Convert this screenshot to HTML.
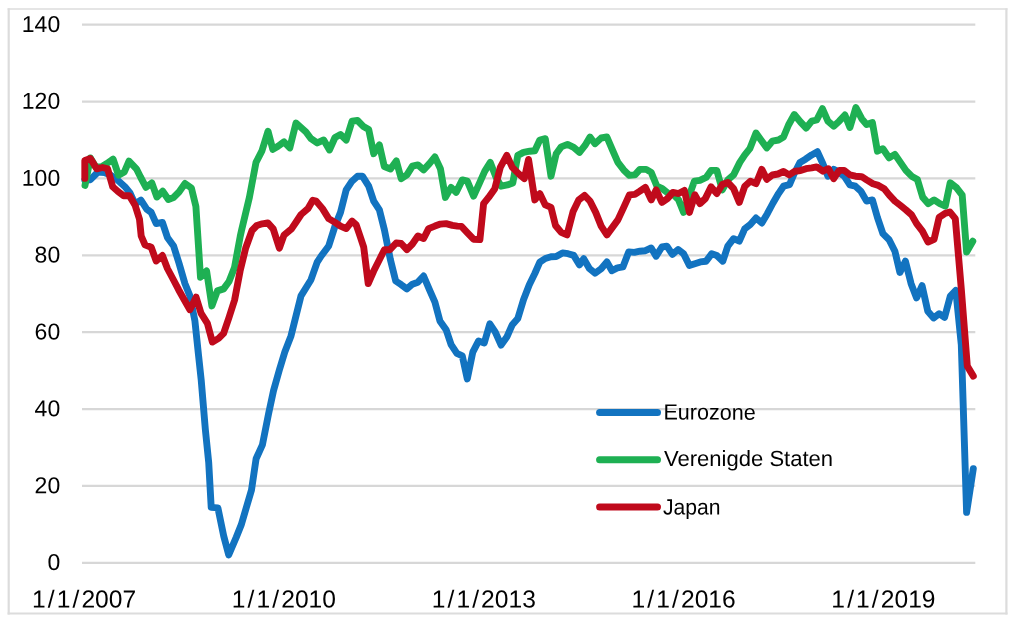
<!DOCTYPE html>
<html lang="nl">
<head>
<meta charset="utf-8">
<title>Grafiek: Eurozone, Verenigde Staten, Japan</title>
<style>
html,body{margin:0;padding:0;background:#fff;}
body{width:1017px;height:625px;overflow:hidden;}
svg{display:block;opacity:0.999;will-change:transform;}
text{font-family:"Liberation Sans","DejaVu Sans",sans-serif;fill:#000;}
.ser{fill:none;stroke-width:6.9;stroke-linejoin:round;stroke-linecap:round;}
</style>
</head>
<body>
<svg width="1017" height="625" viewBox="0 0 1017 625">
<rect x="0" y="0" width="1017" height="625" fill="#ffffff"/>
<g stroke="#dcdcdc" fill="none">
<line x1="8.7" y1="8.3" x2="8.7" y2="614.6" stroke-width="2.2"/>
<line x1="1006.4" y1="8.3" x2="1006.4" y2="614.6" stroke-width="2.2"/>
<line x1="7.6" y1="9.0" x2="1007.5" y2="9.0" stroke-width="1.5"/>
<line x1="7.6" y1="613.6" x2="1007.5" y2="613.6" stroke-width="2.0"/>
</g>
<g stroke="#d7d7d7" stroke-width="2.2" fill="none">
<line x1="82" y1="24.70" x2="975.3" y2="24.70"/>
<line x1="82" y1="101.57" x2="975.3" y2="101.57"/>
<line x1="82" y1="178.44" x2="975.3" y2="178.44"/>
<line x1="82" y1="255.31" x2="975.3" y2="255.31"/>
<line x1="82" y1="332.18" x2="975.3" y2="332.18"/>
<line x1="82" y1="409.05" x2="975.3" y2="409.05"/>
<line x1="82" y1="485.92" x2="975.3" y2="485.92"/>
<line x1="82" y1="562.79" x2="975.3" y2="562.79"/>
</g>
<text transform="translate(60.20 32.00) rotate(0.03) scale(1.0000 1)" font-size="23.0" text-anchor="end">140</text>
<text transform="translate(60.20 108.87) rotate(0.03) scale(1.0000 1)" font-size="23.0" text-anchor="end">120</text>
<text transform="translate(60.20 185.74) rotate(0.03) scale(1.0000 1)" font-size="23.0" text-anchor="end">100</text>
<text transform="translate(60.20 262.61) rotate(0.03) scale(1.0000 1)" font-size="23.0" text-anchor="end">80</text>
<text transform="translate(60.20 339.48) rotate(0.03) scale(1.0000 1)" font-size="23.0" text-anchor="end">60</text>
<text transform="translate(60.20 416.35) rotate(0.03) scale(1.0000 1)" font-size="23.0" text-anchor="end">40</text>
<text transform="translate(60.20 493.22) rotate(0.03) scale(1.0000 1)" font-size="23.0" text-anchor="end">20</text>
<text transform="translate(60.20 570.09) rotate(0.03) scale(1.0000 1)" font-size="23.0" text-anchor="end">0</text>
<text transform="translate(84.05 607.60) rotate(0.03) scale(1.0000 1)" font-size="24.6" text-anchor="middle" dx="0 2.1 2.1 2.1 2.1 0 0 0">1/1/2007</text>
<text transform="translate(283.90 607.60) rotate(0.03) scale(1.0000 1)" font-size="24.6" text-anchor="middle" dx="0 2.1 2.1 2.1 2.1 0 0 0">1/1/2010</text>
<text transform="translate(483.75 607.60) rotate(0.03) scale(1.0000 1)" font-size="24.6" text-anchor="middle" dx="0 2.1 2.1 2.1 2.1 0 0 0">1/1/2013</text>
<text transform="translate(683.60 607.60) rotate(0.03) scale(1.0000 1)" font-size="24.6" text-anchor="middle" dx="0 2.1 2.1 2.1 2.1 0 0 0">1/1/2016</text>
<text transform="translate(883.45 607.60) rotate(0.03) scale(1.0000 1)" font-size="24.6" text-anchor="middle" dx="0 2.1 2.1 2.1 2.1 0 0 0">1/1/2019</text>
<text transform="translate(663.40 419.60) rotate(0.03) scale(0.9800 1)" font-size="22.0" text-anchor="start">Eurozone</text>
<text transform="translate(664.00 466.00) rotate(0.03) scale(1.0020 1)" font-size="22.0" text-anchor="start">Verenigde Staten</text>
<text transform="translate(662.90 514.40) rotate(0.03) scale(0.9600 1)" font-size="22.0" text-anchor="start">Japan</text>
<polyline class="ser" stroke="#1273C0" points="84.8,180.0 90.4,179.7 98.0,172.0 104.4,172.6 110.5,175.0 117.2,179.7 124.9,186.7 130.0,193.0 135.0,204.0 140.9,200.1 146.7,209.1 151.2,212.4 156.2,223.6 162.4,222.4 167.4,237.4 173.6,246.0 179.1,263.5 184.9,283.5 189.9,295.9 194.9,320.9 198.6,355.9 201.2,380.0 205.4,430.0 208.7,462.4 211.2,507.4 217.9,507.9 223.7,536.0 228.7,554.9 236.2,537.4 241.2,524.9 251.5,490.0 256.1,458.7 262.4,444.9 268.6,413.7 273.5,390.8 279.8,368.4 284.8,352.1 291.0,335.9 296.0,315.9 301.0,295.9 311.0,279.7 317.2,262.2 321.2,256.0 328.7,246.0 335.0,226.1 340.5,212.4 346.2,189.9 352.0,181.2 357.5,176.2 362.4,176.2 368.7,186.2 373.7,201.1 379.4,209.9 384.4,229.9 390.4,259.7 395.7,281.0 401.2,284.7 406.9,288.9 412.4,284.2 417.9,282.2 423.6,276.0 429.4,289.7 434.9,302.2 439.9,320.9 446.1,329.7 451.1,344.6 456.9,353.4 462.3,355.9 467.3,378.9 472.8,352.1 478.6,340.9 484.3,342.9 489.8,323.9 495.3,332.2 501.1,345.1 506.8,337.1 512.3,324.7 517.8,318.4 523.5,299.7 529.3,284.7 534.8,273.5 539.8,262.2 545.3,258.5 551.0,256.7 556.2,256.5 562.5,252.9 568.0,253.7 573.7,255.4 579.5,264.9 583.7,258.7 589.5,268.7 595.0,273.2 601.2,268.7 606.9,261.9 611.9,270.7 617.4,267.9 622.9,266.9 628.7,251.9 634.4,252.4 639.9,251.2 645.4,250.7 651.2,248.0 656.1,256.2 661.9,247.0 666.9,246.2 672.4,254.4 678.1,249.5 683.6,253.7 689.4,265.4 694.9,263.7 700.3,261.9 706.1,261.2 711.8,253.7 716.8,255.4 722.8,261.2 727.8,246.2 733.6,238.7 739.3,241.2 744.8,228.7 750.3,224.5 756.0,218.0 761.8,223.0 767.3,213.7 773.0,203.0 778.5,193.6 783.5,186.2 789.5,184.6 794.5,173.0 800.0,162.4 805.5,159.2 811.7,154.9 817.4,151.7 822.9,163.7 827.9,176.2 833.7,169.4 839.2,172.4 844.2,176.2 849.9,184.9 855.4,186.2 860.9,191.2 866.6,201.1 872.4,199.9 877.4,217.4 882.9,233.6 889.1,239.7 894.9,251.2 899.9,272.5 905.4,261.2 911.1,283.7 916.6,297.9 922.1,285.7 927.8,311.2 933.6,317.9 939.1,313.7 944.6,317.4 950.3,296.2 955.8,290.4 961.3,345.0 966.6,512.4 973.3,468.7"/>
<polyline class="ser" stroke="#1EB053" points="85.0,185.4 90.4,157.9 95.8,167.0 101.3,167.0 106.9,163.5 113.1,159.2 118.5,175.2 124.3,172.0 129.0,161.1 136.4,168.8 140.5,177.0 146.0,187.3 151.8,182.9 156.9,197.0 162.7,191.2 168.4,199.5 173.5,197.5 179.0,192.0 185.0,183.5 191.4,188.0 195.9,206.5 200.5,277.2 206.6,271.0 211.9,305.9 217.4,290.9 223.6,288.9 229.0,281.5 234.5,267.5 240.2,236.5 241.5,230.6 249.4,197.4 256.0,162.4 261.8,151.2 268.0,131.2 272.8,149.4 278.0,146.2 284.0,141.9 289.8,147.9 296.0,123.0 301.0,127.5 306.0,132.0 311.0,138.7 317.2,142.9 323.7,140.0 329.5,149.9 335.0,137.5 340.5,134.5 346.2,140.0 352.0,121.2 357.5,120.5 363.0,126.2 368.7,129.5 373.7,153.7 379.4,144.9 384.3,166.5 390.5,169.0 396.3,160.9 401.2,178.7 406.9,174.9 412.4,166.2 417.9,164.9 423.6,169.9 429.4,163.7 434.9,156.9 440.4,168.7 445.4,197.4 451.1,187.4 456.1,192.4 462.3,179.9 467.3,181.2 473.6,196.1 479.8,182.4 484.8,171.2 490.3,162.4 496.1,177.4 501.1,186.2 507.3,184.9 512.8,182.9 517.8,155.4 523.5,152.4 529.8,151.2 534.8,150.7 539.8,140.0 545.3,138.7 551.0,176.2 556.2,153.7 561.2,146.9 567.5,144.4 573.7,147.4 579.5,152.4 585.0,145.4 590.0,137.0 595.0,143.7 601.2,138.0 606.9,137.0 612.4,149.9 617.9,162.4 623.7,169.9 629.4,175.4 634.9,174.9 639.9,169.4 646.2,169.4 651.2,172.4 656.9,186.2 662.4,188.7 668.6,193.6 673.6,194.9 678.6,199.9 683.6,212.4 688.6,197.4 694.4,181.2 699.9,180.4 706.1,177.4 711.1,170.4 716.8,170.4 722.3,189.9 727.8,179.9 733.6,174.9 739.8,162.4 744.8,154.9 749.8,148.7 756.0,133.0 761.0,140.0 766.8,147.9 772.3,141.2 778.5,140.0 783.5,137.0 788.5,125.0 794.3,114.5 800.5,122.0 806.2,128.0 811.7,121.2 816.7,120.0 822.4,108.7 827.9,121.2 833.7,126.2 839.2,121.2 844.9,115.0 849.9,127.5 855.9,107.5 861.7,118.7 866.6,124.5 872.4,122.5 877.4,151.2 882.9,148.7 889.1,157.9 894.9,154.4 900.4,162.4 905.9,170.4 911.6,176.2 917.4,179.4 922.8,197.4 928.3,203.6 934.1,199.9 939.8,203.6 945.3,206.1 950.2,182.8 956.6,187.8 962.2,195.2 966.6,252.0 972.8,241.2"/>
<polyline class="ser" stroke="#C00A1C" points="84.8,178.4 84.8,160.5 90.4,158.6 96.8,168.8 102.5,167.5 107.6,168.8 112.7,186.7 118.0,191.5 123.6,195.7 129.4,195.7 135.1,205.3 139.5,219.3 141.2,236.0 144.9,244.7 151.2,247.2 156.2,261.0 162.4,255.5 167.4,268.5 173.0,279.0 178.6,289.7 184.2,299.7 189.9,309.7 196.1,297.2 201.1,313.4 207.4,323.4 212.4,342.1 218.6,338.4 223.6,333.4 229.0,317.5 234.6,300.0 240.1,271.0 245.7,248.0 252.0,230.5 256.8,225.5 262.3,223.8 267.8,222.9 273.2,228.9 279.4,248.2 284.0,235.2 291.5,228.9 296.3,221.8 301.1,214.5 307.9,208.7 312.8,200.3 316.2,201.1 322.5,208.6 328.7,218.6 335.0,222.4 340.5,226.1 346.2,228.6 352.0,221.1 356.2,224.9 360.0,236.0 363.7,247.2 368.2,283.5 373.7,271.0 379.4,259.7 384.4,249.7 389.9,249.7 396.2,243.0 401.2,243.5 406.9,249.7 412.4,244.0 417.9,236.0 423.6,238.5 428.6,228.6 434.9,226.1 440.4,224.1 446.1,223.6 452.4,225.4 457.4,226.1 461.4,226.4 467.5,232.9 473.5,239.2 479.9,239.6 483.6,203.6 488.6,197.4 494.8,188.7 500.3,167.4 506.8,155.4 512.3,167.4 518.5,173.7 524.3,178.7 528.5,159.4 534.8,199.9 539.8,193.6 545.3,204.9 551.0,207.4 555.5,225.5 561.2,232.4 567.0,234.9 573.0,211.8 578.7,199.9 584.5,195.4 590.0,201.1 595.7,212.4 601.2,226.1 606.9,234.9 612.4,227.4 617.9,219.9 623.7,207.4 629.4,194.9 634.9,194.4 639.9,191.2 645.4,187.4 651.2,199.9 656.1,189.9 661.9,202.4 667.4,198.6 672.9,192.4 678.6,193.6 684.4,190.4 689.4,212.4 694.9,194.9 699.9,203.6 705.3,198.6 711.1,186.9 716.8,193.6 722.3,184.4 727.8,182.4 733.6,188.7 739.3,202.4 744.8,186.2 750.3,181.2 756.0,183.7 761.8,169.4 766.8,179.3 772.4,175.0 778.0,174.0 783.5,171.5 789.2,174.9 795.0,171.2 800.5,170.6 806.0,168.7 811.7,167.9 816.7,166.9 822.9,171.2 828.4,168.7 833.7,178.7 839.2,170.4 844.2,170.4 849.9,174.9 855.4,176.2 861.7,176.7 866.6,179.9 872.9,183.7 878.4,185.4 884.1,188.7 889.1,194.9 894.9,201.1 900.4,205.4 905.9,209.9 911.6,214.9 916.6,223.6 922.4,231.1 928.0,242.0 934.1,239.3 939.1,217.4 944.8,213.6 949.8,211.9 955.3,218.6 961.3,289.0 967.3,366.1 973.3,376.1"/>
<line x1="599.6" y1="412.4" x2="657.5" y2="412.4" stroke="#1273C0" stroke-width="7.0" stroke-linecap="round"/>
<line x1="599.6" y1="459.7" x2="657.5" y2="459.7" stroke="#1EB053" stroke-width="7.0" stroke-linecap="round"/>
<line x1="599.6" y1="507.0" x2="657.5" y2="507.0" stroke="#C00A1C" stroke-width="7.0" stroke-linecap="round"/>
</svg>
</body>
</html>
